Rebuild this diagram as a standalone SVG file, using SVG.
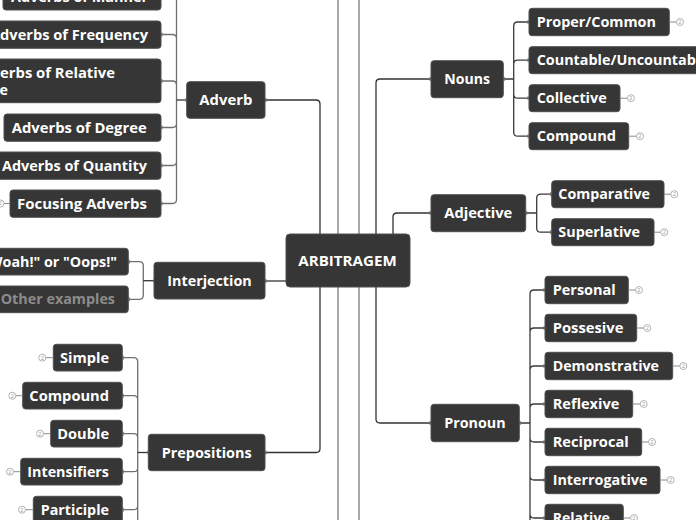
<svg xmlns="http://www.w3.org/2000/svg" width="696" height="520" viewBox="0 0 696 520">
<style>
.bg{fill:#ffffff}
.guide{stroke:#8c8c8c;stroke-width:1.5;fill:none}
.main{stroke:#333333;stroke-width:1.3;fill:none}
.subl{stroke:#707070;stroke-width:1.3;fill:none}
.subr{stroke:#3a3a3a;stroke-width:1.3;fill:none}
.tick{stroke:#777777;stroke-width:1;fill:none}
.box{fill:#363636;stroke:#4f4f4f;stroke-width:1}
.t{font-family:"Open Sans","Liberation Sans",sans-serif;font-weight:700;font-size:14px;fill:#ffffff}
.dim{fill:#8c8c8c}
.ic circle{fill:#ffffff;stroke:#a0a0a0;stroke-width:0.8}
.ic text{font-family:"Liberation Sans",sans-serif;font-size:5px;fill:#999999;text-anchor:middle}
.ic line{stroke:#8a8a8a;stroke-width:1}
</style>
<rect class="bg" x="0" y="0" width="696" height="520"/>
<g id="guides">
<line class="guide" x1="338" y1="0" x2="338" y2="520"/>
<line class="guide" x1="359" y1="0" x2="359" y2="520"/>
</g>
<g id="connectors">
<path class="main" d="M265,100 H316 Q320,100 320,104 V234"/>
<path class="main" d="M320,287 V448.5 Q320,452.5 316,452.5 H265"/>
<path class="main" d="M265,281 H286"/>
<path class="main" d="M376,234 V83 Q376,79 380,79 H431"/>
<path class="main" d="M393,234 V217 Q393,213 397,213 H431"/>
<path class="main" d="M376,287 V419 Q376,423 380,423 H431"/>
<path class="subl" d="M161,-3.5 H172.5 Q176.5,-3.5 176.5,0.5 V100 M161,34.5 H172.5 Q176.5,34.5 176.5,38.5 V100 M161,81 H172.5 Q176.5,81 176.5,85 V100 M161,127.5 H172.5 Q176.5,127.5 176.5,123.5 V100 M161,165.5 H172.5 Q176.5,165.5 176.5,161.5 V100 M161,203.5 H172.5 Q176.5,203.5 176.5,199.5 V100"/>
<path class="main" d="M176.5,100 H186.7"/>
<path class="subl" d="M128.3,261.7 H139.3 Q143.3,261.7 143.3,265.7 V280.7 M128.3,299.3 H139.3 Q143.3,299.3 143.3,295.3 V280.7"/>
<path class="main" d="M143.3,280.7 H154"/>
<path class="subl" d="M122.3,357.7 H133.7 Q137.7,357.7 137.7,361.7 V452.5 M122.3,395.7 H133.7 Q137.7,395.7 137.7,399.7 V452.5 M122.3,433.7 H133.7 Q137.7,433.7 137.7,437.7 V452.5 M122.3,471.7 H133.7 Q137.7,471.7 137.7,467.7 V452.5 M122.3,509.7 H133.7 Q137.7,509.7 137.7,505.7 V452.5 M137.7,452.5 V520"/>
<path class="main" d="M137.7,452.5 H148.3"/>
<path class="subr" d="M529,22 H517.7 Q513.7,22 513.7,26 V79 M529,60.2 H517.7 Q513.7,60.2 513.7,64.2 V79 M529,98.2 H517.7 Q513.7,98.2 513.7,94.2 V79 M529,136.2 H517.7 Q513.7,136.2 513.7,132.2 V79 M503.3,79 H513.7"/>
<path class="subr" d="M551.7,194.2 H540.7 Q536.7,194.2 536.7,198.2 V213 M551.7,232.2 H540.7 Q536.7,232.2 536.7,228.2 V213 M525.7,213 H536.7"/>
<path class="subr" d="M545,290 H534 Q530,290 530,294 V423 M545,328 H534 Q530,328 530,332 V423 M545,366 H534 Q530,366 530,370 V423 M545,404 H534 Q530,404 530,408 V423 M545,442 H534 Q530,442 530,438 V423 M545,480 H534 Q530,480 530,476 V423 M545,518 H534 Q530,518 530,514 V423 M530,423 V520 M519.3,423 H530"/>
<path class="tick" d="M162,-5.5 v4 M162,32.5 v4 M162,79 v4 M162,125.5 v4 M162,163.5 v4 M162,201.5 v4 M186,98 v4 M266,98 v4 M129.3,259.7 v4 M129.3,297.3 v4 M154,278.7 v4 M266,279 v4 M123.3,355.7 v4 M123.3,393.7 v4 M123.3,431.7 v4 M123.3,469.7 v4 M123.3,507.7 v4 M148,450.5 v4 M266,450.5 v4 M430,77 v4 M430,211 v4 M430,421 v4 M504.3,77 v4 M526.7,211 v4 M520.3,421 v4 M528,20 v4 M528,58.2 v4 M528,96.2 v4 M528,134.2 v4 M550.7,192.2 v4 M550.7,230.2 v4 M544,288 v4 M544,326 v4 M544,364 v4 M544,402 v4 M544,440 v4 M544,478 v4 M544,516 v4"/>
</g>
<g id="n-center"><rect class="box" x="286" y="234" width="124" height="53" rx="4"/><text class="t" x="298.3" y="266" textLength="98.4" lengthAdjust="spacingAndGlyphs">ARBITRAGEM</text></g>
<g id="n-adverb"><rect class="box" x="186.7" y="81.7" width="78.3" height="36.6" rx="3"/><text class="t" x="199.3" y="105" textLength="53" lengthAdjust="spacingAndGlyphs">Adverb</text></g>
<g id="n-manner"><rect class="box" x="3" y="-17" width="158" height="27" rx="3"/><text class="t" x="11" y="1.5" textLength="137" lengthAdjust="spacingAndGlyphs">Adverbs of Manner</text></g>
<g id="n-frequency"><rect class="box" x="-22" y="21" width="183" height="27.3" rx="3"/><text class="t" x="-10" y="39.5" textLength="158" lengthAdjust="spacingAndGlyphs">Adverbs of Frequency</text></g>
<g id="n-relative"><rect class="box" x="-40" y="59" width="201" height="43.7" rx="3"/><text class="t" y="78"><tspan x="-28" textLength="143" lengthAdjust="spacingAndGlyphs">Adverbs of Relative</tspan><tspan x="-27" dy="17" textLength="35" lengthAdjust="spacingAndGlyphs">Time</tspan></text></g>
<g id="n-degree"><rect class="box" x="4" y="114" width="157" height="27.3" rx="3"/><text class="t" x="11.7" y="132.5" textLength="135" lengthAdjust="spacingAndGlyphs">Adverbs of Degree</text></g>
<g id="n-quantity"><rect class="box" x="-8" y="152" width="169" height="27.3" rx="3"/><text class="t" x="2" y="170.5" textLength="145" lengthAdjust="spacingAndGlyphs">Adverbs of Quantity</text></g>
<g id="n-focusing"><rect class="box" x="10" y="190" width="151" height="27.3" rx="3"/><text class="t" x="17" y="208.5" textLength="130" lengthAdjust="spacingAndGlyphs">Focusing Adverbs</text>
<g class="ic"><line x1="3.8" y1="203.5" x2="10" y2="203.5"/><circle cx="0.5" cy="203.5" r="3.5"/><text x="0.5" y="205.3">2</text></g></g>
<g id="n-interjection"><rect class="box" x="154" y="262.3" width="111" height="36.7" rx="3"/><text class="t" x="167.3" y="285.7" textLength="84.4" lengthAdjust="spacingAndGlyphs">Interjection</text></g>
<g id="n-woah"><rect class="box" x="-30" y="248.3" width="158.3" height="26.7" rx="3"/><text class="t" x="-18" y="266.7" textLength="135" lengthAdjust="spacingAndGlyphs">"Woah!" or "Oops!"</text></g>
<g id="n-other"><rect class="box" x="-12" y="286" width="140.3" height="26.7" rx="3"/><text class="t dim" x="0.7" y="304.3" textLength="114.3" lengthAdjust="spacingAndGlyphs">Other examples</text></g>
<g id="n-prepositions"><rect class="box" x="148.3" y="434.3" width="116.7" height="36.4" rx="3"/><text class="t" x="161.7" y="457.5" textLength="90" lengthAdjust="spacingAndGlyphs">Prepositions</text></g>
<g id="n-simple"><rect class="box" x="53.3" y="344.3" width="69" height="26.7" rx="3"/><text class="t" x="60" y="362.7" textLength="49" lengthAdjust="spacingAndGlyphs">Simple</text>
<g class="ic"><line x1="45.8" y1="357.7" x2="53.3" y2="357.7"/><circle cx="42.3" cy="357.7" r="3.5"/><text x="42.3" y="359.5">2</text></g></g>
<g id="n-compound-p"><rect class="box" x="22.7" y="382.3" width="99.6" height="26.7" rx="3"/><text class="t" x="29.3" y="400.7" textLength="79.7" lengthAdjust="spacingAndGlyphs">Compound</text>
<g class="ic"><line x1="15.8" y1="395.7" x2="22.7" y2="395.7"/><circle cx="12.3" cy="395.7" r="3.5"/><text x="12.3" y="397.5">2</text></g></g>
<g id="n-double"><rect class="box" x="50.7" y="420.3" width="71.6" height="26.7" rx="3"/><text class="t" x="57.3" y="438.7" textLength="51.7" lengthAdjust="spacingAndGlyphs">Double</text>
<g class="ic"><line x1="43.5" y1="433.7" x2="50.7" y2="433.7"/><circle cx="40" cy="433.7" r="3.5"/><text x="40" y="435.5">2</text></g></g>
<g id="n-intensifiers"><rect class="box" x="20.7" y="458.3" width="101.6" height="26.7" rx="3"/><text class="t" x="27.3" y="476.7" textLength="81.7" lengthAdjust="spacingAndGlyphs">Intensifiers</text>
<g class="ic"><line x1="13.5" y1="471.7" x2="20.7" y2="471.7"/><circle cx="10" cy="471.7" r="3.5"/><text x="10" y="473.5">2</text></g></g>
<g id="n-participle"><rect class="box" x="33.3" y="496.3" width="89" height="26.7" rx="3"/><text class="t" x="40.7" y="514.7" textLength="68.3" lengthAdjust="spacingAndGlyphs">Participle</text>
<g class="ic"><line x1="25.5" y1="509.7" x2="33.3" y2="509.7"/><circle cx="22" cy="509.7" r="3.5"/><text x="22" y="511.5">2</text></g></g>
<g id="n-nouns"><rect class="box" x="431" y="60.7" width="72.3" height="37" rx="3"/><text class="t" x="444.3" y="84" textLength="45.7" lengthAdjust="spacingAndGlyphs">Nouns</text></g>
<g id="n-proper"><rect class="box" x="529" y="8.3" width="140.3" height="27.4" rx="3"/><text class="t" x="536.7" y="27" textLength="119.3" lengthAdjust="spacingAndGlyphs">Proper/Common</text>
<g class="ic"><line x1="669.3" y1="22" x2="676.5" y2="22"/><circle cx="680" cy="22" r="3.5"/><text x="680" y="23.8">2</text></g></g>
<g id="n-countable"><rect class="box" x="529" y="46.7" width="194" height="27" rx="3"/><text class="t" x="536.7" y="65.2" textLength="172" lengthAdjust="spacingAndGlyphs">Countable/Uncountable</text></g>
<g id="n-collective"><rect class="box" x="529" y="84.7" width="91" height="27" rx="3"/><text class="t" x="536.7" y="103.2" textLength="70" lengthAdjust="spacingAndGlyphs">Collective</text>
<g class="ic"><line x1="620" y1="98.2" x2="627.5" y2="98.2"/><circle cx="631" cy="98.2" r="3.5"/><text x="631" y="100">2</text></g></g>
<g id="n-compound-n"><rect class="box" x="529" y="122.7" width="99.7" height="27" rx="3"/><text class="t" x="536.7" y="141.2" textLength="79.3" lengthAdjust="spacingAndGlyphs">Compound</text>
<g class="ic"><line x1="628.7" y1="136.2" x2="636.5" y2="136.2"/><circle cx="640" cy="136.2" r="3.5"/><text x="640" y="138">2</text></g></g>
<g id="n-adjective"><rect class="box" x="431" y="194.7" width="94.7" height="37" rx="3"/><text class="t" x="444.3" y="218" textLength="68" lengthAdjust="spacingAndGlyphs">Adjective</text></g>
<g id="n-comparative"><rect class="box" x="551.7" y="180.7" width="112.3" height="27" rx="3"/><text class="t" x="558.3" y="199.2" textLength="91.7" lengthAdjust="spacingAndGlyphs">Comparative</text>
<g class="ic"><line x1="664" y1="194.2" x2="670.8" y2="194.2"/><circle cx="674.3" cy="194.2" r="3.5"/><text x="674.3" y="196">2</text></g></g>
<g id="n-superlative"><rect class="box" x="551.7" y="218.7" width="102.3" height="27" rx="3"/><text class="t" x="558.3" y="237.2" textLength="81.7" lengthAdjust="spacingAndGlyphs">Superlative</text>
<g class="ic"><line x1="654" y1="232.2" x2="660.8" y2="232.2"/><circle cx="664.3" cy="232.2" r="3.5"/><text x="664.3" y="234">2</text></g></g>
<g id="n-pronoun"><rect class="box" x="431" y="404.3" width="88.3" height="37.4" rx="3"/><text class="t" x="444.3" y="428" textLength="61.3" lengthAdjust="spacingAndGlyphs">Pronoun</text></g>
<g id="n-personal"><rect class="box" x="545" y="276.3" width="83.3" height="27.4" rx="3"/><text class="t" x="552.7" y="295" textLength="63" lengthAdjust="spacingAndGlyphs">Personal</text>
<g class="ic"><line x1="628.3" y1="290" x2="635.5" y2="290"/><circle cx="639" cy="290" r="3.5"/><text x="639" y="291.8">2</text></g></g>
<g id="n-possesive"><rect class="box" x="545" y="314.3" width="91.7" height="27.4" rx="3"/><text class="t" x="552.7" y="333" textLength="70.7" lengthAdjust="spacingAndGlyphs">Possesive</text>
<g class="ic"><line x1="636.7" y1="328" x2="643.8" y2="328"/><circle cx="647.3" cy="328" r="3.5"/><text x="647.3" y="329.8">2</text></g></g>
<g id="n-demonstrative"><rect class="box" x="545" y="352.3" width="127.7" height="27.4" rx="3"/><text class="t" x="552.7" y="371" textLength="106.3" lengthAdjust="spacingAndGlyphs">Demonstrative</text>
<g class="ic"><line x1="672.7" y1="366" x2="679.8" y2="366"/><circle cx="683.3" cy="366" r="3.5"/><text x="683.3" y="367.8">2</text></g></g>
<g id="n-reflexive"><rect class="box" x="545" y="390.3" width="87.7" height="27.4" rx="3"/><text class="t" x="552.7" y="409" textLength="66.7" lengthAdjust="spacingAndGlyphs">Reflexive</text>
<g class="ic"><line x1="632.7" y1="404" x2="640.2" y2="404"/><circle cx="643.7" cy="404" r="3.5"/><text x="643.7" y="405.8">2</text></g></g>
<g id="n-reciprocal"><rect class="box" x="545" y="428.3" width="96.7" height="27.4" rx="3"/><text class="t" x="552.7" y="447" textLength="76" lengthAdjust="spacingAndGlyphs">Reciprocal</text>
<g class="ic"><line x1="641.7" y1="442" x2="648.5" y2="442"/><circle cx="652" cy="442" r="3.5"/><text x="652" y="443.8">2</text></g></g>
<g id="n-interrogative"><rect class="box" x="545" y="466.3" width="115" height="27.4" rx="3"/><text class="t" x="552.7" y="485" textLength="94.7" lengthAdjust="spacingAndGlyphs">Interrogative</text>
<g class="ic"><line x1="660" y1="480" x2="667.2" y2="480"/><circle cx="670.7" cy="480" r="3.5"/><text x="670.7" y="481.8">2</text></g></g>
<g id="n-relative-p"><rect class="box" x="545" y="504.3" width="78.3" height="27.4" rx="3"/><text class="t" x="552.7" y="523" textLength="57" lengthAdjust="spacingAndGlyphs">Relative</text>
<g class="ic"><line x1="623.3" y1="518" x2="630.5" y2="518"/><circle cx="634" cy="518" r="3.5"/><text x="634" y="519.8">2</text></g></g>
</svg>
